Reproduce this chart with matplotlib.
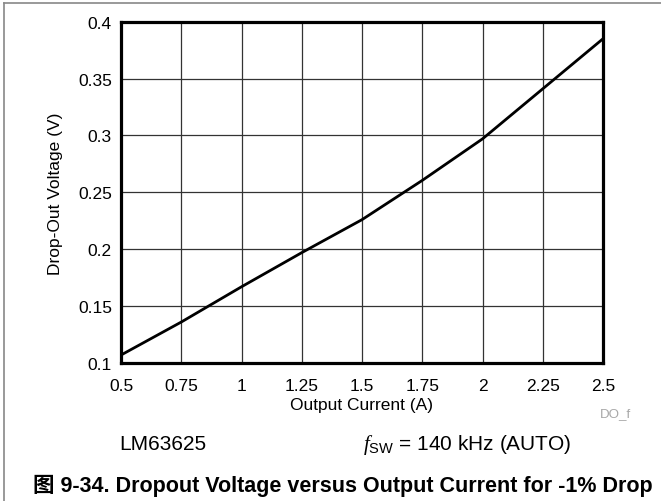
import matplotlib.pyplot as plt
import numpy as np

# datos
corriente = [0.5, 0.75, 1.0, 1.25, 1.5, 1.75, 2.0, 2.25, 2.5]
tension = [0.107, 0.136, 0.167, 0.197, 0.226, 0.2605, 0.297, 0.341, 0.385]

x_ticks = [0.5, 0.75, 1, 1.25, 1.5, 1.75, 2, 2.25, 2.5]
x_labels = ["0.5", "0.75", "1", "1.25", "1.5", "1.75", "2", "2.25", "2.5"]
y_ticks = [0.1, 0.15, 0.2, 0.25, 0.3, 0.35, 0.4]
y_labels = ["0.1", "0.15", "0.2", "0.25", "0.3", "0.35", "0.4"]

plt.rcParams['font.family'] = ['Liberation Sans', 'Noto Sans CJK SC', 'DejaVu Sans']
plt.rcParams['mathtext.fontset'] = 'custom'
plt.rcParams['mathtext.it'] = 'Liberation Serif:italic'
plt.rcParams['mathtext.rm'] = 'Liberation Sans'

W, H = 661, 502
fig = plt.figure(figsize=(W / 100, H / 100), dpi=100)

# area del grafico en pixeles
izq, der, arr, aba = 121, 603, 22.7, 364
ax = fig.add_axes([izq / W, 1 - aba / H, (der - izq) / W, (aba - arr) / H])

ax.plot(corriente, tension, color='black', lw=2.0, zorder=3)

ax.set_xlim(0.5, 2.5)
ax.set_ylim(0.1, 0.4)
ax.set_xticks(x_ticks)
ax.set_xticklabels(x_labels)
ax.set_yticks(y_ticks)
ax.set_yticklabels(y_labels)
ax.tick_params(length=0, labelsize=12.5)
ax.tick_params(axis='x', pad=11)
ax.tick_params(axis='y', pad=6.5)
ax.grid(True, color='#333333', lw=0.9)
for s in ax.spines.values():
    s.set_linewidth(2.3)

ax.set_xlabel("Output Current (A)", fontsize=12.5, labelpad=3)
ax.set_ylabel("Drop-Out Voltage (V)", fontsize=12.5, labelpad=11)

# textos fuera del grafico
fig.text(600 / W, 1 - 414 / H, "DO_f", fontsize=9.6, color='#a8a8a8',
         ha='left', va='center')
fig.text(119 / W, 1 - 445 / H, "LM63625", fontsize=15, ha='left', va='center')
fig.text(572 / W, 1 - 445 / H, r"$f_{\mathrm{SW}}$ = 140 kHz (AUTO)", fontsize=15,
         ha='right', va='center')
fig.text(33 / W, 1 - 486 / H, "图 9-34. Dropout Voltage versus Output Current for -1% Drop",
         fontsize=15.5, fontweight='bold', ha='left', va='center')

# marco
fig.add_artist(plt.Line2D([3.5 / W, 3.5 / W], [0, 1 - 4 / H], color='#888888', lw=1.2))
fig.add_artist(plt.Line2D([3.5 / W, 1], [1 - 4 / H, 1 - 4 / H], color='#888888', lw=1.2))

fig.savefig("out.png", dpi=100)
